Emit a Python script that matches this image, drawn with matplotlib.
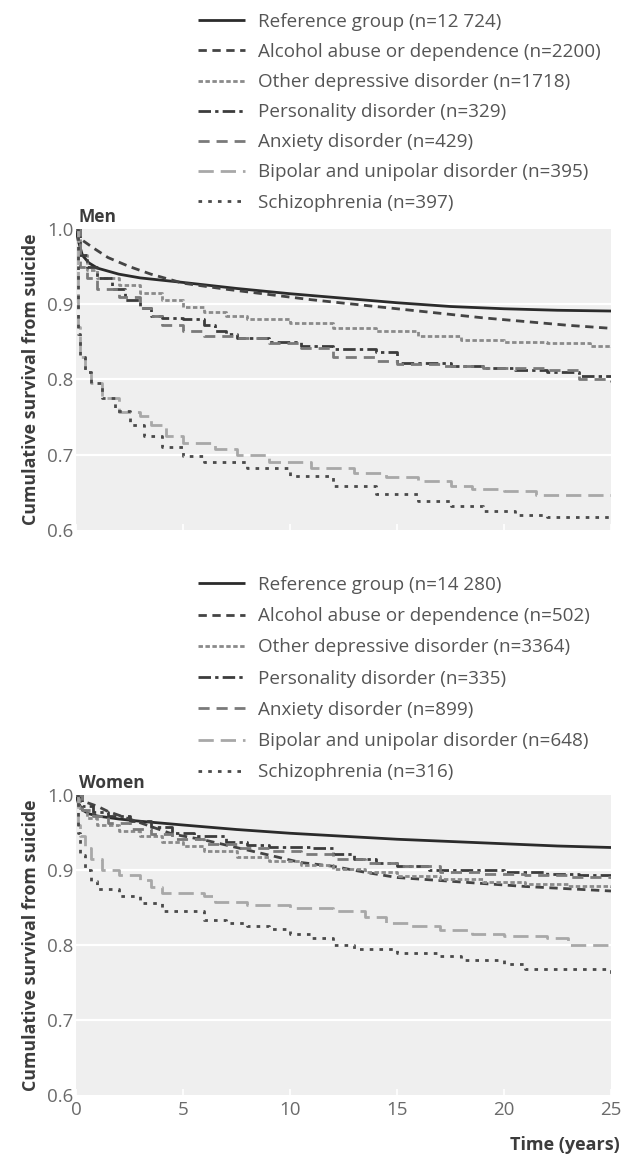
import matplotlib
matplotlib.use("Agg")
import matplotlib.pyplot as plt

plt.rcParams['font.family'] = ['Open Sans', 'DejaVu Sans']

# ---------------- data ----------------
labels_men = ["Reference group (n=12 724)", "Alcohol abuse or dependence (n=2200)",
              "Other depressive disorder (n=1718)", "Personality disorder (n=329)",
              "Anxiety disorder (n=429)", "Bipolar and unipolar disorder (n=395)",
              "Schizophrenia (n=397)"]
labels_women = ["Reference group (n=14 280)", "Alcohol abuse or dependence (n=502)",
                "Other depressive disorder (n=3364)", "Personality disorder (n=335)",
                "Anxiety disorder (n=899)", "Bipolar and unipolar disorder (n=648)",
                "Schizophrenia (n=316)"]

# Men
men_ref_t = [0, 0.1, 0.3, 0.6, 1, 2, 3, 5, 7.5, 10, 12.5, 15, 17.5, 20, 22.5, 25]
men_ref_s = [1.0, 0.985, 0.965, 0.955, 0.948, 0.94, 0.935, 0.929, 0.921, 0.914, 0.908, 0.902, 0.897, 0.894, 0.892, 0.891]
men_alc_t = [0, 0.3, 0.8, 1.5, 2.5, 3.5, 5, 7, 9, 11, 13, 15, 17, 19, 21, 23, 25]
men_alc_s = [1.0, 0.985, 0.975, 0.962, 0.95, 0.94, 0.928, 0.92, 0.913, 0.906, 0.9, 0.894, 0.888, 0.882, 0.877, 0.872, 0.868]
men_dep_t = [0, 0.2, 0.5, 1, 2, 3, 4, 5, 6, 7, 8, 10, 12, 14, 16, 18, 20, 22, 24, 25]
men_dep_s = [1.0, 0.965, 0.945, 0.935, 0.925, 0.915, 0.905, 0.897, 0.89, 0.885, 0.88, 0.875, 0.868, 0.865, 0.858, 0.853, 0.85, 0.848, 0.845, 0.843]
men_per_t = [0, 0.2, 0.5, 1, 1.7, 2.3, 3, 3.5, 4, 5, 6, 6.5, 7, 7.5, 9, 10.5, 12, 14, 15, 17.5, 19, 20.5, 22, 23.5, 25]
men_per_s = [1.0, 0.965, 0.95, 0.935, 0.92, 0.905, 0.895, 0.885, 0.882, 0.88, 0.872, 0.865, 0.86, 0.855, 0.85, 0.845, 0.84, 0.837, 0.822, 0.818, 0.815, 0.812, 0.81, 0.805, 0.805]
men_anx_t = [0, 0.2, 0.5, 1, 2, 3, 3.5, 4, 5, 6, 7.5, 9, 10.5, 12, 14, 15, 17, 19, 22, 23.5, 25]
men_anx_s = [1.0, 0.95, 0.935, 0.92, 0.91, 0.895, 0.885, 0.872, 0.865, 0.858, 0.855, 0.848, 0.842, 0.83, 0.825, 0.82, 0.818, 0.815, 0.812, 0.8, 0.797]
men_bip_t = [0, 0.1, 0.2, 0.4, 0.7, 1.2, 2, 3, 3.5, 4.2, 5, 6.5, 7.5, 9, 11, 13, 14.5, 16, 17.5, 18.5, 20, 21.5, 25]
men_bip_s = [1.0, 0.87, 0.83, 0.81, 0.795, 0.775, 0.757, 0.752, 0.74, 0.725, 0.715, 0.708, 0.7, 0.69, 0.683, 0.676, 0.67, 0.665, 0.658, 0.654, 0.652, 0.647, 0.647]
men_sch_t = [0, 0.1, 0.2, 0.4, 0.7, 1.2, 1.8, 2.5, 3.2, 4, 5, 6, 8, 10, 12, 14, 16, 17.5, 19, 20.5, 22, 25]
men_sch_s = [1.0, 0.86, 0.83, 0.81, 0.795, 0.775, 0.758, 0.74, 0.725, 0.71, 0.698, 0.69, 0.682, 0.672, 0.658, 0.648, 0.638, 0.632, 0.625, 0.62, 0.617, 0.617]

# Women
wom_ref_t = [0, 0.1, 0.3, 0.6, 1, 2, 3, 5, 7.5, 10, 12.5, 15, 17.5, 20, 22.5, 25]
wom_ref_s = [1.0, 0.99, 0.98, 0.975, 0.972, 0.968, 0.965, 0.96, 0.954, 0.949, 0.945, 0.941, 0.938, 0.935, 0.932, 0.93]
wom_alc_t = [0, 0.5, 1, 1.5, 2.5, 3.5, 4.5, 6, 7.5, 9, 10.5, 12, 13.5, 15, 17, 19, 21, 23, 25]
wom_alc_s = [1.0, 0.99, 0.985, 0.978, 0.968, 0.958, 0.948, 0.94, 0.93, 0.92, 0.91, 0.905, 0.897, 0.89, 0.886, 0.882, 0.878, 0.875, 0.872]
wom_dep_t = [0, 0.2, 0.5, 1, 2, 3, 4, 5, 6, 7.5, 9, 10.5, 12, 13.5, 15, 17, 19, 21, 23, 25]
wom_dep_s = [1.0, 0.98, 0.97, 0.96, 0.952, 0.945, 0.938, 0.932, 0.925, 0.918, 0.912, 0.907, 0.902, 0.897, 0.892, 0.888, 0.884, 0.881, 0.879, 0.877]
wom_per_t = [0, 0.3, 0.8, 1.5, 2.5, 3.5, 4.5, 5.5, 7, 8, 9, 11, 12, 13, 14, 15, 16.5, 18, 20, 22, 23.5, 25]
wom_per_s = [1.0, 0.985, 0.978, 0.972, 0.965, 0.957, 0.95, 0.945, 0.938, 0.933, 0.931, 0.93, 0.922, 0.915, 0.91, 0.905, 0.9, 0.9, 0.897, 0.895, 0.894, 0.893]
wom_anx_t = [0, 0.3, 0.8, 1.5, 2.5, 3.5, 4.5, 6, 7.5, 9, 10.5, 12, 13.5, 15, 17, 19, 21, 23, 25]
wom_anx_s = [1.0, 0.98, 0.972, 0.963, 0.955, 0.948, 0.942, 0.935, 0.93, 0.925, 0.921, 0.915, 0.91, 0.905, 0.898, 0.895, 0.893, 0.891, 0.89]
wom_bip_t = [0, 0.1, 0.2, 0.4, 0.7, 1.2, 2, 3, 3.5, 4, 6, 6.5, 8, 10, 12, 13.5, 14.5, 15.5, 17, 18.5, 20, 22, 23, 25]
wom_bip_s = [1.0, 0.96, 0.945, 0.93, 0.915, 0.9, 0.893, 0.887, 0.878, 0.87, 0.865, 0.858, 0.853, 0.85, 0.845, 0.838, 0.83, 0.825, 0.82, 0.815, 0.812, 0.81, 0.8, 0.8]
wom_sch_t = [0, 0.1, 0.2, 0.4, 0.7, 1, 2, 3, 4, 5.5, 6, 7, 8, 9, 10, 11, 12, 13, 15, 17, 18, 20, 21, 24.5, 25]
wom_sch_s = [1.0, 0.95, 0.92, 0.9, 0.885, 0.875, 0.866, 0.856, 0.845, 0.845, 0.834, 0.83, 0.825, 0.822, 0.815, 0.81, 0.8, 0.795, 0.79, 0.786, 0.78, 0.775, 0.768, 0.768, 0.755]

men_series = [(men_ref_t, men_ref_s), (men_alc_t, men_alc_s), (men_dep_t, men_dep_s),
              (men_per_t, men_per_s), (men_anx_t, men_anx_s), (men_bip_t, men_bip_s),
              (men_sch_t, men_sch_s)]
wom_series = [(wom_ref_t, wom_ref_s), (wom_alc_t, wom_alc_s), (wom_dep_t, wom_dep_s),
              (wom_per_t, wom_per_s), (wom_anx_t, wom_anx_s), (wom_bip_t, wom_bip_s),
              (wom_sch_t, wom_sch_s)]

x_ticks = [0, 5, 10, 15, 20, 25]
y_ticks = [0.6, 0.7, 0.8, 0.9, 1.0]

# ---------------- styles ----------------
styles = [
    dict(color='#2b2b2b', lw=2.0, ls='-', step=False),
    dict(color='#444444', lw=2.0, ls=(0, (3.0, 2.0)), step=False),
    dict(color='#8a8a8a', lw=2.0, ls=(0, (1.6, 0.9)), step=True),
    dict(color='#3c3c3c', lw=2.0, ls=(0, (4.5, 1.5, 1.2, 1.5)), step=True),
    dict(color='#7a7a7a', lw=2.0, ls=(0, (4.0, 2.5)), step=True),
    dict(color='#a8a8a8', lw=2.0, ls=(0, (5.5, 2.5)), step=True),
    dict(color='#4a4a4a', lw=2.0, ls=(0, (1.3, 2.2)), step=True),
]

W, H = 624, 1164
fig = plt.figure(figsize=(W / 100, H / 100), dpi=100)

def make_axes(top_px, bot_px):
    left_px, right_px = 76, 611
    return fig.add_axes([left_px / W, 1 - bot_px / H, (right_px - left_px) / W, (bot_px - top_px) / H])

ax1 = make_axes(229, 530)
ax2 = make_axes(795, 1095)

tick_color = '#6a6a6a'

def style_axes(ax, series, labels, title, show_xlabels, legend_top_px, spacing):
    ax.set_facecolor('#efefef')
    handles = []
    for (t, s), st, lab in zip(series, styles, labels):
        h, = ax.plot(t, s, color=st['color'], lw=st['lw'], ls=st['ls'],
                     drawstyle='steps-post' if st['step'] else 'default',
                     label=lab, solid_capstyle='butt', dash_capstyle='butt')
        handles.append(h)
    ax.set_xlim(0, 25)
    ax.set_ylim(0.6, 1.0)
    ax.set_yticks(y_ticks)
    ax.set_yticklabels([f"{v:.1f}" for v in y_ticks])
    ax.set_xticks(x_ticks)
    if show_xlabels:
        ax.set_xticklabels([str(v) for v in x_ticks])
    else:
        ax.set_xticklabels([])
    for yv in [0.7, 0.8, 0.9]:
        ax.axhline(yv, color='white', lw=1.6, zorder=0.5)
    for sp in ax.spines.values():
        sp.set_visible(False)
    ax.tick_params(axis='y', length=0, labelsize=13.5, labelcolor=tick_color, pad=2)
    ax.tick_params(axis='x', direction='in', length=4, width=1.2, color='white',
                   labelsize=13.5, labelcolor=tick_color, pad=4)
    ax.text(0.005, 1.01, title, transform=ax.transAxes, ha='left', va='bottom',
            fontsize=12.5, fontweight='bold', color='#3c3c3c')
    ax.set_ylabel("Cumulative survival from suicide", fontsize=12.8, fontweight='bold',
                  color='#3c3c3c', labelpad=5)
    leg = ax.legend(handles=handles, loc='upper left', frameon=False,
                    bbox_to_anchor=(198 / W, 1 - (legend_top_px) / H),
                    bbox_transform=fig.transFigure, fontsize=13.6,
                    handlelength=2.5, handletextpad=0.7, labelspacing=spacing,
                    borderpad=0, borderaxespad=0)
    for txt in leg.get_texts():
        txt.set_color('#555555')

style_axes(ax1, men_series, labels_men, "Men", False, 13, 0.64)
style_axes(ax2, wom_series, labels_women, "Women", True, 576, 0.7)

fig.text(620 / W, 1 - 1145 / H, "Time (years)", ha='right', va='center',
         fontsize=13, fontweight='bold', color='#3c3c3c')

fig.savefig("out.png", dpi=100, facecolor='white')
